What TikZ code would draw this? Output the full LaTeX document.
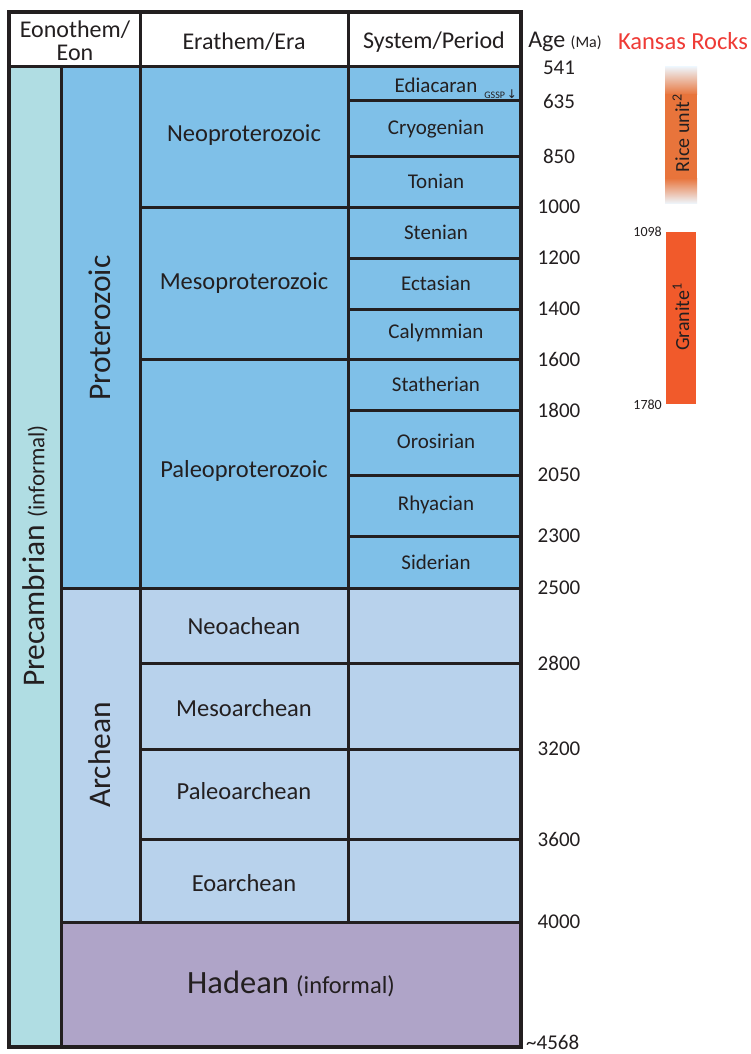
\documentclass[tikz,border=0pt]{standalone}
\usepackage{fontspec}
\setmainfont{Carlito}
\newfontfamily\symfont{DejaVu Sans}
\definecolor{ink}{HTML}{231F20}
\definecolor{precam}{HTML}{B0DDE3}
\definecolor{protero}{HTML}{7FC0E8}
\definecolor{archean}{HTML}{B8D2EC}
\definecolor{hadean}{HTML}{AFA4C8}
\definecolor{kred}{HTML}{EF3B36}
\definecolor{riceor}{HTML}{E8743B}
\definecolor{granor}{HTML}{F15A2B}
\definecolor{barlight}{HTML}{EEF3F8}
\begin{document}
\begin{tikzpicture}[x=1pt,y=-1pt,line join=miter,
  grid/.style={line width=3pt, draw=ink},
  outer/.style={line width=3.6pt, draw=ink},
  hdr/.style={font=\fontsize{24}{24}\selectfont, text=ink, align=center, inner sep=0pt},
  eralbl/.style={font=\fontsize{24.5}{26}\selectfont, text=ink, inner sep=0pt},
  perlbl/.style={font=\fontsize{21}{24}\selectfont, text=ink, inner sep=0pt},
  eonlbl/.style={font=\fontsize{31.5}{34}\selectfont, text=ink, rotate=90, inner sep=0pt},
  agelbl/.style={font=\fontsize{21}{24}\selectfont, text=ink, inner sep=0pt},
  barlbl/.style={font=\fontsize{20}{22}\selectfont, text=ink, rotate=90, inner sep=0pt},
  smallage/.style={font=\fontsize{14}{16}\selectfont, text=ink, inner sep=0pt, anchor=east},
]
\useasboundingbox (0,0) rectangle (750,1054);
\fill[white] (0,0) rectangle (750,1054);

% fills
\fill[white] (9,12) rectangle (521,67);
\fill[precam] (9,67) rectangle (61,1047);
\fill[protero] (61,67) rectangle (521,588);
\fill[archean] (61,588) rectangle (521,922);
\fill[hadean] (61,922) rectangle (521,1047);

% inner grid lines
\draw[grid] (9,67) -- (521,67);
\draw[grid] (140,12) -- (140,922);
\draw[grid] (348,12) -- (348,922);
\draw[grid] (61,67) -- (61,1047);
\foreach \yy in {207,359} \draw[grid] (140,\yy) -- (521,\yy);
\foreach \yy in {588,922} \draw[grid] (61,\yy) -- (521,\yy);
\foreach \yy in {101,156,258,309,410,475,536} \draw[grid] (348,\yy) -- (521,\yy);
\foreach \yy in {663,749,839} \draw[grid] (140,\yy) -- (521,\yy);
\draw[outer] (9,12) rectangle (521,1047);

% header
\node[hdr] (h1) at (75,41) {Eonothem/\\[-1pt]Eon};
\node[hdr] (h2) at (244,42) {Erathem/Era};
\node[hdr] (h3) at (434,42) {System/Period};

% eons
\node[eonlbl] (precambrian) at (35,556) {Precambrian {\fontsize{23}{24}\selectfont(informal)}};
\node[eonlbl] (proterozoic) at (100,328) {Proterozoic};
\node[eonlbl] (archeanlbl) at (100,755) {Archean};
\node[text=ink, inner sep=0pt] (hadeanlbl) at (291,984) {{\fontsize{32.5}{34}\selectfont Hadean\ }{\fontsize{24.5}{26}\selectfont(informal)}};

% eras
\node[eralbl] (neoprot) at (244,135) {Neoproterozoic};
\node[eralbl] (mesoprot) at (244,283) {Mesoproterozoic};
\node[eralbl] (paleoprot) at (244,471) {Paleoproterozoic};
\node[eralbl] (neoarch) at (244,626) {Neoachean};
\node[eralbl] (mesoarch) at (244,708) {Mesoarchean};
\node[eralbl] (paleoarch) at (244,791) {Paleoarchean};
\node[eralbl] (eoarch) at (244,883) {Eoarchean};

% periods
\node[perlbl] (ediacaran) at (436,85) {Ediacaran};
\node[text=ink, inner sep=0pt, anchor=east] (gssp) at (517,94) {{\fontsize{10}{10}\selectfont GSSP}\,{\symfont\fontsize{12}{12}\selectfont ↓}};
\node[perlbl] (cryogenian) at (436,129) {Cryogenian};
\node[perlbl] (tonian) at (436,181) {Tonian};
\node[perlbl] (stenian) at (436,232) {Stenian};
\node[perlbl] (ectasian) at (436,283) {Ectasian};
\node[perlbl] (calymmian) at (436,333) {Calymmian};
\node[perlbl] (statherian) at (436,384) {Statherian};
\node[perlbl] (orosirian) at (436,441) {Orosirian};
\node[perlbl] (rhyacian) at (436,505) {Rhyacian};
\node[perlbl] (siderian) at (436,562) {Siderian};

% ages
\node[hdr] (agehdr) at (565,42) {Age {\fontsize{16}{18}\selectfont (Ma)}};
\node[agelbl] (a541) at (559,68) {541};
\node[agelbl] (a635) at (559,101) {635};
\node[agelbl] (a850) at (559,156) {850};
\node[agelbl] (a1000) at (559,207) {1000};
\node[agelbl] (a1200) at (559,258) {1200};
\node[agelbl] (a1400) at (559,309) {1400};
\node[agelbl] (a1600) at (559,359) {1600};
\node[agelbl] (a1800) at (559,410) {1800};
\node[agelbl] (a2050) at (559,475) {2050};
\node[agelbl] (a2300) at (559,536) {2300};
\node[agelbl] (a2500) at (559,588) {2500};
\node[agelbl] (a2800) at (559,663) {2800};
\node[agelbl] (a3200) at (559,749) {3200};
\node[agelbl] (a3600) at (559,839) {3600};
\node[agelbl] (a4000) at (559,922) {4000};
\node[agelbl, anchor=west] (a4568) at (526,1042) {\textasciitilde 4568};

% Kansas rocks
\node[font=\fontsize{24.5}{26}\selectfont, text=kred, inner sep=0pt] (kansas) at (683,41) {Kansas Rocks};
\shade[top color=barlight, bottom color=riceor] (665,67) rectangle (697,95);
\fill[riceor] (665,94.5) rectangle (697,178.5);
\shade[top color=riceor, bottom color=barlight] (665,178) rectangle (697,203);
\node[barlbl] (rice) at (681,133) {Rice unit\textsuperscript{2}};
\fill[granor] (666,232) rectangle (696,404);
\node[barlbl] (granite) at (681,317) {Granite\textsuperscript{1}};
\node[smallage] (s1098) at (662,232) {1098};
\node[smallage] (s1780) at (662,405) {1780};
\end{tikzpicture}
\end{document}
